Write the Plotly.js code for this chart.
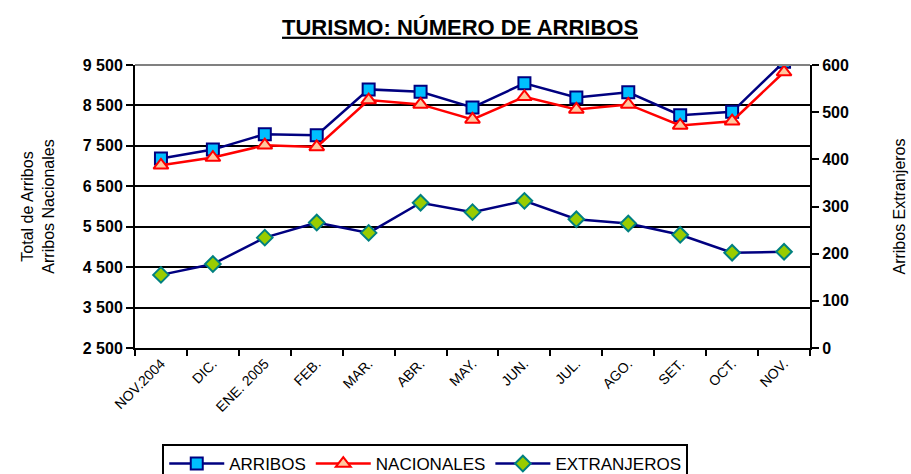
<!DOCTYPE html>
<html>
<head>
<meta charset="utf-8">
<script src="https://cdn.plot.ly/plotly-3.0.1.min.js"></script>
<style>html,body{margin:0;padding:0;background:#fff;}#chart{width:911px;height:474px;}</style>
</head>
<body>
<div id="chart"></div>
<script>
const months = ["NOV.2004","DIC.","ENE. 2005","FEB.","MAR.","ABR.","MAY.","JUN.","JUL.","AGO.","SET.","OCT.","NOV."];
const arribos = [7185,7408,7788,7763,8897,8837,8450,9046,8699,8823,8259,8341,9580];
const nacionales = [7019,7210,7515,7473,8632,8525,8153,8714,8401,8525,8004,8110,9326];
const extranjeros = [155,178,234,266,244,308,288,312,273,264,240,202,204];
const leftTicks = [2500,3500,4500,5500,6500,7500,8500,9500];
const rightTicks = [0,100,200,300,400,500,600];

const sans = "Liberation Sans, Arial, sans-serif";

const traces = [
  {x: months, y: arribos, name: "ARRIBOS", type: "scatter", mode: "lines+markers",
   line: {color: "#000080", width: 2.5},
   marker: {symbol: "square", size: 12, color: "#00BFFF", line: {color: "#000080", width: 2}}},
  {x: months, y: nacionales, name: "NACIONALES", type: "scatter", mode: "lines+markers",
   line: {color: "#FF0000", width: 2.5},
   marker: {symbol: "triangle-up", size: 13, color: "#FFC8A0", line: {color: "#FF0000", width: 2}}},
  {x: months, y: extranjeros, name: "EXTRANJEROS", type: "scatter", mode: "lines+markers", yaxis: "y2",
   line: {color: "#000080", width: 2.5},
   marker: {symbol: "diamond", size: 12, color: "#99CC00", line: {color: "#008080", width: 2}}}
];

const layout = {
  width: 911, height: 474,
  paper_bgcolor: "#fff", plot_bgcolor: "#fff",
  separators: ", ",
  margin: {l: 135, r: 101, t: 65, b: 126},
  title: {text: "<b><u>TURISMO: NÚMERO DE ARRIBOS</u></b>", x: 0.505, xanchor: "center", y: 0.943, yanchor: "middle",
          font: {family: sans, size: 22, color: "#000"}},
  showlegend: true,
  legend: {orientation: "h", xref: "paper", x: 0.43, xanchor: "center", yref: "container", y: 0.0633, yanchor: "top",
           bordercolor: "#000", borderwidth: 2, font: {family: sans, size: 17, color: "#000"},
           itemwidth: 55, tracegroupgap: 0},
  xaxis: {type: "category", range: [-0.5, 12.5], tickangle: -45, tickson: "boundaries",
          ticks: "outside", ticklen: 6, tickwidth: 2, tickcolor: "#000",
          showline: true, linecolor: "#000", linewidth: 2, showgrid: false, zeroline: false,
          tickfont: {family: sans, size: 14, color: "#000"}, automargin: false},
  yaxis: {range: [2500, 9500], tickvals: leftTicks, tickformat: ",d",
          ticks: "outside", ticklen: 7, tickwidth: 2, tickcolor: "#000",
          showline: true, linecolor: "#000", linewidth: 2,
          showgrid: true, gridcolor: "#000", gridwidth: 2, zeroline: false,
          tickfont: {family: sans, size: 16, color: "#000", weight: "bold"},
          title: {text: "Total de Arribos<br>Arribos Nacionales", font: {family: sans, size: 16, color: "#000"}, standoff: 24}},
  yaxis2: {overlaying: "y", side: "right", range: [0, 600], tickvals: rightTicks,
           ticks: "outside", ticklen: 7, tickwidth: 2, tickcolor: "#000",
           showline: true, linecolor: "#000", linewidth: 2, showgrid: false, zeroline: false,
           tickfont: {family: sans, size: 16, color: "#000", weight: "bold"},
           title: {text: "Arribos Extranjeros", font: {family: sans, size: 16, color: "#000"}, standoff: 46}},
  shapes: [
    {type: "line", xref: "paper", yref: "paper", x0: 0, x1: 1, y0: 1, y1: 1, line: {color: "#808080", width: 2}}
  ]
};

Plotly.newPlot("chart", traces, layout, {displayModeBar: false, staticPlot: true});
</script>
</body>
</html>
